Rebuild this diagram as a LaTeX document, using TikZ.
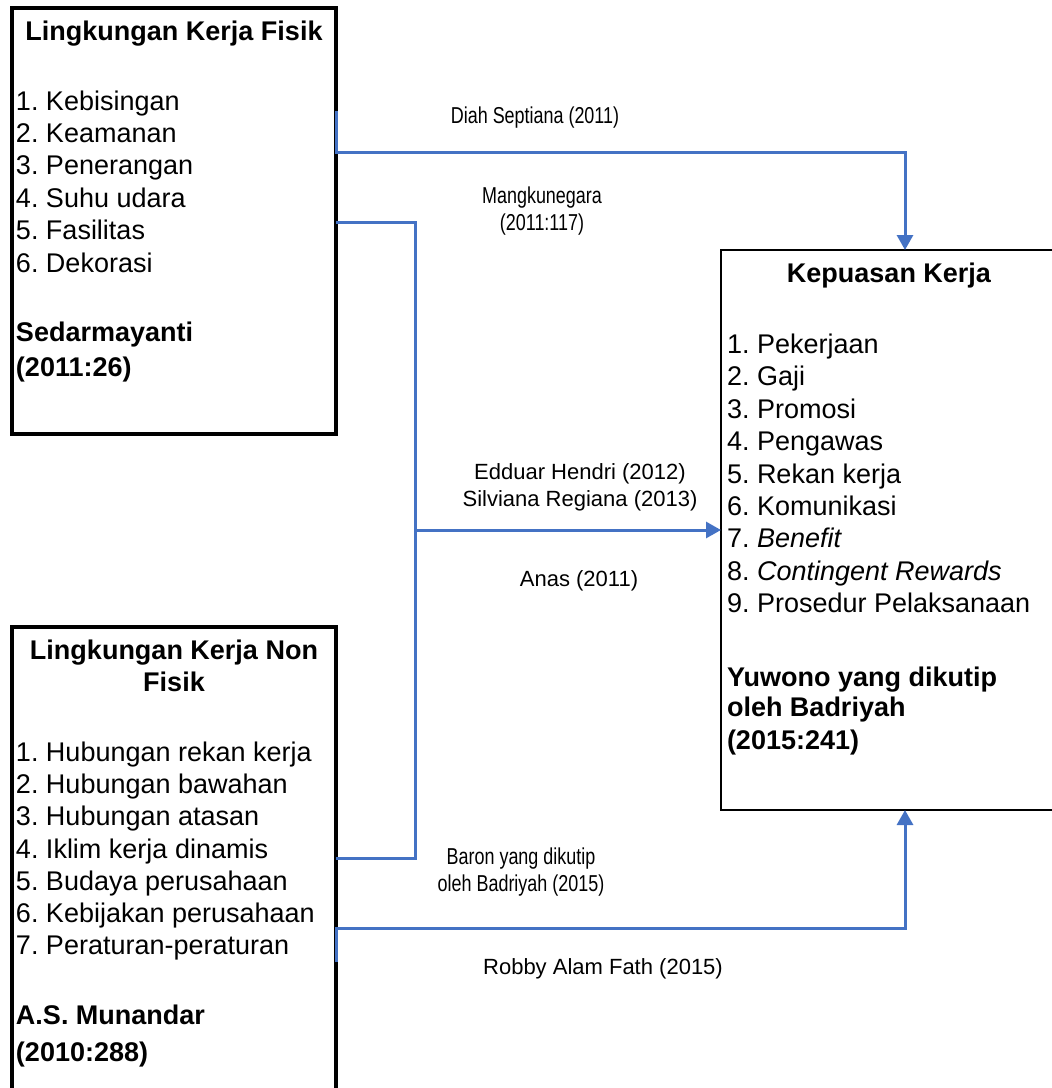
\documentclass[tikz,border=0pt]{standalone}
\usepackage{fontspec}
\setmainfont{Liberation Sans}
\newfontfamily\narrowfont[FakeStretch=0.78]{Liberation Sans}
\usetikzlibrary{arrows.meta}
\definecolor{linkblue}{HTML}{4472C4}
\frenchspacing
\tikzset{
every node/.style={inner sep=0pt, outer sep=0pt},
box/.style={rectangle, draw, line width=4pt},
item/.style={anchor=base west, font=\fontsize{27}{32}\selectfont},
head/.style={anchor=base, font=\bfseries\fontsize{27}{32}\selectfont},
src/.style={anchor=base west, font=\bfseries\fontsize{27}{32}\selectfont},
cite/.style={anchor=base, font=\fontsize{22}{27}\selectfont},
narrowcite/.style={anchor=base, font=\narrowfont\fontsize{23}{27}\selectfont},
link/.style={draw=linkblue, line width=3pt}
}

\begin{document}
\begin{tikzpicture}[x=1pt, y=-1pt, >={Triangle[length=15pt,width=16pt]}]
\useasboundingbox (0,0) rectangle (1052,1088);
\clip (0,0) rectangle (1052,1088);

\node[box, minimum width=324, minimum height=426] (fisik) at (174,221) {};
\node[box, minimum width=324, minimum height=493] (nonfisik) at (174,873.5) {};
\node[box, line width=2.5pt, minimum width=359, minimum height=560] (kepuasan) at (900.5,530) {};

\node[head] (fisikjudul) at (174,40) {Lingkungan Kerja Fisik};
\node[item] (f1) at (16,110) {1. Kebisingan};
\node[item] (f2) at (16,142) {2. Keamanan};
\node[item] (f3) at (16,174) {3. Penerangan};
\node[item] (f4) at (16,207) {4. Suhu udara};
\node[item] (f5) at (16,239) {5. Fasilitas};
\node[item] (f6) at (16,272) {6. Dekorasi};
\node[src] (fisiksumber) at (16,341) {Sedarmayanti};
\node[src] (fisiktahun) at (16,376) {(2011:26)};

\node[head] (nonjudul1) at (174,659) {Lingkungan Kerja Non};
\node[head] (nonjudul2) at (174,691) {Fisik};
\node[item] (n1) at (16,761) {1. Hubungan rekan kerja};
\node[item] (n2) at (16,793) {2. Hubungan bawahan};
\node[item] (n3) at (16,825) {3. Hubungan atasan};
\node[item] (n4) at (16,858) {4. Iklim kerja dinamis};
\node[item] (n5) at (16,890) {5. Budaya perusahaan};
\node[item] (n6) at (16,922) {6. Kebijakan perusahaan};
\node[item] (n7) at (16,954) {7. Peraturan-peraturan};
\node[src] (nonsumber) at (16,1024) {A.S. Munandar};
\node[src] (nontahun) at (16,1061) {(2010:288)};

\node[head] (kepjudul) at (889,282) {Kepuasan Kerja};
\node[item] (k1) at (727,353) {1. Pekerjaan};
\node[item] (k2) at (727,385) {2. Gaji};
\node[item] (k3) at (727,418) {3. Promosi};
\node[item] (k4) at (727,450) {4. Pengawas};
\node[item] (k5) at (727,483) {5. Rekan kerja};
\node[item] (k6) at (727,515) {6. Komunikasi};
\node[item] (k7) at (727,547) {7. \textit{Benefit}};
\node[item] (k8) at (727,580) {8. \textit{Contingent Rewards}};
\node[item] (k9) at (727,612) {9. Prosedur Pelaksanaan};
\node[src] (kepsumber1) at (727,686) {Yuwono yang dikutip};
\node[src] (kepsumber2) at (727,716) {oleh Badriyah};
\node[src] (keptahun) at (727,749) {(2015:241)};

\node[narrowcite] (diah) at (535,123) {Diah Septiana (2011)};
\node[narrowcite] (mangku1) at (542,203) {Mangkunegara};
\node[narrowcite] (mangku2) at (542,230) {(2011:117)};
\node[cite] (edduar) at (580,479) {Edduar Hendri (2012)};
\node[cite] (silviana) at (580,506) {Silviana Regiana (2013)};
\node[cite] (anas) at (579,586) {Anas (2011)};
\node[narrowcite] (baron1) at (521,864) {Baron yang dikutip};
\node[narrowcite] (baron2) at (521,891) {oleh Badriyah (2015)};
\node[cite] (robby) at (603,974) {Robby Alam Fath (2015)};

\coordinate (a1) at (336,111);
\coordinate (a2) at (905,152);
\draw[link,->] (a1) |- (a2) -- (a2 |- kepuasan.north);

\coordinate (b1) at (336,222);
\coordinate (b2) at (415,858);
\coordinate (b3) at (336,858);
\coordinate (b4) at (415,530);
\draw[link] (b1) -| (b2) -- (b3);
\draw[link,->] (b4) -- (b4 -| kepuasan.west);

\coordinate (c1) at (336,962);
\coordinate (c2) at (905,928);
\draw[link,->] (c1) |- (c2) -- (c2 |- kepuasan.south);
\end{tikzpicture}
\end{document}
